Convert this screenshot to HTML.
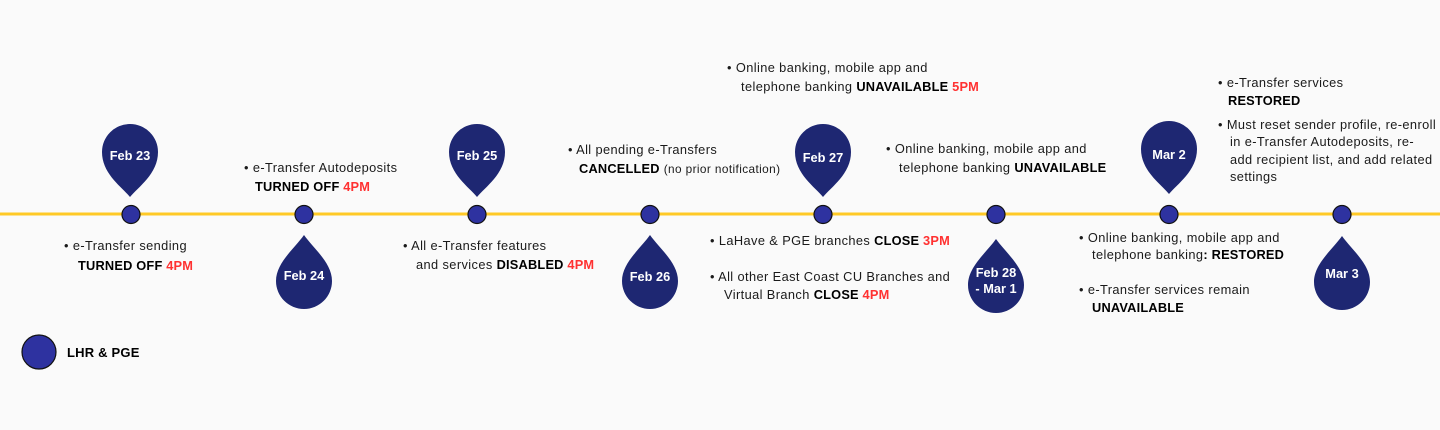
<!DOCTYPE html>
<html><head><meta charset="utf-8"><style>
html,body{margin:0;padding:0;background:#fafafa;}
svg{display:block}
text{font-family:"Liberation Sans",sans-serif;font-size:12.8px;letter-spacing:0.4px;fill:#1a1a1a}
.b{font-weight:bold;fill:#000;letter-spacing:0.2px}
.r{font-weight:bold;fill:#ff3131;letter-spacing:0.2px}
.p{font-weight:bold;fill:#fff;font-size:12.8px;letter-spacing:0}
</style></head><body>
<svg width="1440" height="430" viewBox="0 0 1440 430">
<rect width="1440" height="430" fill="#fafafa"/>
<defs>
<path id="tp" d="M0,45 C-8,35 -28,22 -28,0 A28,28 0 1 1 28,0 C28,22 8,35 0,45 Z" fill="#1e2772"/>
<path id="bp" d="M0,0 C-10,14 -28,28 -28,46 A28,28 0 0 0 28,46 C28,28 10,14 0,0 Z" fill="#1e2772"/>
</defs>
<rect x="0" y="212.5" width="1440" height="3" fill="#ffc926"/>
<g stroke="#111" stroke-width="1.2" fill="#2e32a0">
<circle cx="131" cy="214.5" r="9"/><circle cx="304" cy="214.5" r="9"/><circle cx="477" cy="214.5" r="9"/><circle cx="650" cy="214.5" r="9"/>
<circle cx="823" cy="214.5" r="9"/><circle cx="996" cy="214.5" r="9"/><circle cx="1169" cy="214.5" r="9"/><circle cx="1342" cy="214.5" r="9"/>
<circle cx="39" cy="352" r="17"/>
</g>
<use href="#tp" x="130" y="152"/><use href="#tp" x="477" y="152"/><use href="#tp" x="823" y="152"/><use href="#tp" x="1169" y="149"/>
<use href="#bp" x="304" y="235"/><use href="#bp" x="650" y="235"/><use href="#bp" x="996" y="239"/><use href="#bp" x="1342" y="236"/>
<g text-anchor="middle">
<text class="p" x="130" y="160">Feb 23</text>
<text class="p" x="477" y="160">Feb 25</text>
<text class="p" x="823" y="162">Feb 27</text>
<text class="p" x="1169" y="159">Mar 2</text>
<text class="p" x="304" y="280">Feb 24</text>
<text class="p" x="650" y="281">Feb 26</text>
<text class="p" x="996" y="277">Feb 28</text>
<text class="p" x="996" y="293">- Mar 1</text>
<text class="p" x="1342" y="278">Mar 3</text>
</g>
<text class="b" x="67" y="357" style="font-size:13px">LHR &amp; PGE</text>

<text x="64" y="250">•  e-Transfer sending</text>
<text x="78" y="270"><tspan class="b">TURNED OFF </tspan><tspan class="r">4PM</tspan></text>

<text x="244" y="172">•   e-Transfer Autodeposits</text>
<text x="255" y="191"><tspan class="b">TURNED OFF </tspan><tspan class="r">4PM</tspan></text>

<text x="403" y="250">•  All e-Transfer features</text>
<text x="416" y="269">and services <tspan class="b">DISABLED </tspan><tspan class="r">4PM</tspan></text>

<text x="568" y="154">•  All pending e-Transfers</text>
<text x="579" y="173"><tspan class="b">CANCELLED</tspan> <tspan style="font-size:11.8px">(no prior notification)</tspan></text>

<text x="727" y="72">•  Online banking, mobile app and</text>
<text x="741" y="91">telephone banking <tspan class="b">UNAVAILABLE  </tspan><tspan class="r"> 5PM</tspan></text>

<text x="710" y="245">•  LaHave &amp; PGE branches <tspan class="b">CLOSE </tspan><tspan class="r">3PM</tspan></text>
<text x="710" y="281">•  All other East Coast CU Branches and</text>
<text x="724" y="299">Virtual Branch <tspan class="b">CLOSE </tspan><tspan class="r">4PM</tspan></text>

<text x="886" y="153">•  Online banking, mobile app and</text>
<text x="899" y="172">telephone banking <tspan class="b">UNAVAILABLE</tspan></text>

<text x="1218" y="87">•  e-Transfer services</text>
<text x="1228" y="105" class="b">RESTORED</text>
<text x="1218" y="129">•  Must reset sender profile, re-enroll</text>
<text x="1230" y="146">in  e-Transfer Autodeposits, re-</text>
<text x="1230" y="164">add recipient list, and add related</text>
<text x="1230" y="181">settings</text>

<text x="1079" y="242">•  Online banking, mobile app and</text>
<text x="1092" y="259">telephone banking<tspan class="b">: RESTORED</tspan></text>
<text x="1079" y="294">•  e-Transfer services remain</text>
<text x="1092" y="312" class="b">UNAVAILABLE</text>
</svg>
</body></html>
